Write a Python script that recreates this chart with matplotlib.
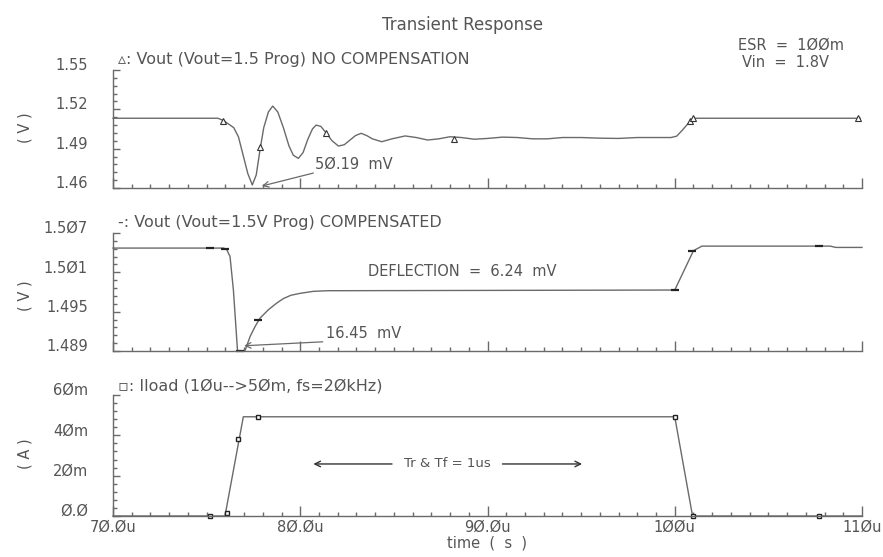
import matplotlib
matplotlib.use("Agg")
import matplotlib.pyplot as plt
import numpy as np
from matplotlib.ticker import MultipleLocator, FixedLocator

# ---------------- data (time in microseconds) ----------------
t_nc = [70.0, 75.6, 75.9, 76.2, 76.45, 76.7, 76.95, 77.2, 77.44, 77.65, 77.85, 78.05,
        78.3, 78.53, 78.8, 79.1, 79.4, 79.63, 79.9, 80.15, 80.4, 80.65, 80.85, 81.1,
        81.4, 81.7, 82.04, 82.35, 82.66, 82.95, 83.25, 83.55, 83.85, 84.35, 84.9,
        85.6, 86.2, 86.8, 87.4, 88.0, 88.6, 89.3, 90.0, 90.8, 91.6, 92.4, 93.2, 94.0,
        95.0, 96.0, 97.0, 98.0, 99.0, 99.8, 100.1, 100.4, 100.7, 101.0, 109.9]
v_nc = [1.5132, 1.5132, 1.5115, 1.5085, 1.5060, 1.4990, 1.4850, 1.4710, 1.4623, 1.4700,
        1.4890, 1.5060, 1.5180, 1.5225, 1.5180, 1.5060, 1.4920, 1.4850, 1.4826, 1.4870,
        1.4970, 1.5050, 1.5080, 1.5070, 1.5017, 1.4960, 1.4920, 1.4930, 1.4966, 1.5000,
        1.5017, 1.5000, 1.4975, 1.4953, 1.4975, 1.4997, 1.4985, 1.4966, 1.4975, 1.4991,
        1.4985, 1.4972, 1.4978, 1.4988, 1.4985, 1.4975, 1.4975, 1.4985, 1.4985, 1.4980,
        1.4978, 1.4985, 1.4985, 1.4985, 1.4995, 1.5040, 1.5090, 1.5132, 1.5132]
mk_nc_t = [75.9, 77.85, 81.4, 88.2, 100.8, 101.0, 109.8]
mk_nc_v = [1.5110, 1.4915, 1.5017, 1.4975, 1.5110, 1.5132, 1.5132]

t_c = [70.0, 75.9, 76.07, 76.25, 76.43, 76.65, 77.05, 77.32, 77.6, 77.85, 78.3, 78.74,
       79.1, 79.5, 80.0, 80.7, 81.5, 82.5, 100.0, 100.5, 101.0, 101.45, 108.3, 108.6, 110.0]
v_c = [1.5047, 1.5047, 1.5045, 1.5034, 1.4983, 1.48905, 1.48905, 1.4912, 1.4928, 1.4940,
       1.4953, 1.4963, 1.4970, 1.4975, 1.4978, 1.4981, 1.4982, 1.4982, 1.4983, 1.5013,
       1.5043, 1.5050, 1.5050, 1.5048, 1.5048]
mk_c_t = [75.2, 76.0, 76.8, 77.76, 100.0, 100.9, 107.7]
mk_c_v = [1.5047, 1.5045, 1.48905, 1.4938, 1.4983, 1.5043, 1.5050]

t_i = [70.0, 75.98, 76.96, 100.0, 100.95, 110.0]
i_ld = [0.0, 0.0, 49.2, 49.2, 0.0, 0.0]          # mA
mk_i_t = [75.2, 76.1, 76.7, 77.75, 100.0, 100.95, 107.7]
mk_i_v = [0.0, 1.5, 38.0, 49.2, 49.2, 0.0, 0.0]

x_ticks = [70, 80, 90, 100, 110]
x_labels = ["7Ø.Øu", "8Ø.Øu", "9Ø.Øu", "1ØØu", "11Øu"]
y1_ticks = [1.46, 1.49, 1.52, 1.55]
y1_labels = ["1.46", "1.49", "1.52", "1.55"]
y2_ticks = [1.489, 1.495, 1.501, 1.507]
y2_labels = ["1.489", "1.495", "1.5Ø1", "1.5Ø7"]
y3_ticks = [0, 20, 40, 60]
y3_labels = ["Ø.Ø", "2Øm", "4Øm", "6Øm"]

# ---------------- style ----------------
LC = "#6a6a6a"
TC = "#555555"
FS = 10.5
W, H = 883, 557

fig = plt.figure(figsize=(8.83, 5.57), dpi=100)
fig.patch.set_facecolor("white")

def box(top, bottom):
    return [113 / W, 1 - bottom / H, (862 - 113) / W, (bottom - top) / H]

ax1 = fig.add_axes(box(70, 188))
ax2 = fig.add_axes(box(233, 351))
ax3 = fig.add_axes(box(395, 516))

def style(ax, yt, ylab):
    for s in ["top", "right"]:
        ax.spines[s].set_visible(False)
    for s in ["left", "bottom"]:
        ax.spines[s].set_color(LC)
        ax.spines[s].set_linewidth(1.0)
    ax.set_xlim(70, 110)
    ax.set_ylim(yt[0], yt[-1])
    ax.xaxis.set_major_locator(FixedLocator(x_ticks))
    ax.xaxis.set_minor_locator(MultipleLocator(1))
    ax.yaxis.set_major_locator(FixedLocator(yt))
    ax.yaxis.set_minor_locator(FixedLocator(np.linspace(yt[0], yt[-1], 5 * (len(yt) - 1) + 1)))
    ax.set_yticklabels(ylab)
    ax.tick_params(axis="both", which="both", direction="in", color=LC, width=1.0)
    ax.tick_params(axis="x", which="major", length=7)
    ax.tick_params(axis="x", which="minor", length=3)
    ax.tick_params(axis="y", which="major", length=5, pad=18)
    ax.tick_params(axis="y", which="minor", length=3)
    ax.tick_params(axis="y", labelsize=FS, labelcolor=TC)
    for lab in ax.get_yticklabels():
        lab.set_va("baseline")
    ax.set_facecolor("white")

style(ax1, y1_ticks, y1_labels)
style(ax2, y2_ticks, y2_labels)
style(ax3, y3_ticks, y3_labels)
ax1.set_xticklabels([])
ax2.set_xticklabels([])
ax3.set_xticklabels(x_labels)
ax3.tick_params(axis="x", labelsize=FS, labelcolor=TC, pad=3)
ax3.set_xlabel("time  (  s  )", fontsize=FS, color=TC, labelpad=0)

# curves
ax1.plot(t_nc, v_nc, color=LC, lw=1.0, clip_on=False)
ax1.plot(mk_nc_t, mk_nc_v, ls="none", marker="^", ms=4, mfc="white", mec="#333333",
         mew=0.8, clip_on=False)
ax2.plot(t_c, v_c, color=LC, lw=1.0, clip_on=False)
ax2.plot(mk_c_t, mk_c_v, ls="none", marker="_", ms=6, mec="#222222", mew=1.6, clip_on=False)
ax3.plot(t_i, i_ld, color=LC, lw=1.0, clip_on=False)
ax3.plot(mk_i_t, mk_i_v, ls="none", marker="s", ms=3, mfc="white", mec="#222222",
         mew=1.0, clip_on=False)

# panel titles
TFS = 11.5
ax1.text(0.007, 1.05, "\u25b5: Vout (Vout=1.5 Prog) NO COMPENSATION", transform=ax1.transAxes,
         fontsize=TFS, color=TC, va="baseline", ha="left")
ax2.text(0.007, 1.053, "-: Vout (Vout=1.5V Prog) COMPENSATED", transform=ax2.transAxes,
         fontsize=TFS, color=TC, va="baseline", ha="left")
ax3.text(0.007, 1.036, "\u25ab: Iload (1Øu-->5Øm, fs=2ØkHz)", transform=ax3.transAxes,
         fontsize=TFS, color=TC, va="baseline", ha="left")

# y labels
for yc, s in [(128, "( V )"), (296, "( V )"), (454, "( A )")]:
    fig.text(25 / W, 1 - yc / H, s, rotation=90, ha="center", va="center",
             fontsize=FS, color=TC)

# figure texts
fig.text(463 / W, 1 - 30 / H, "Transient Response", ha="center", va="baseline",
         fontsize=12, color=TC)
fig.text(738 / W, 1 - 50 / H, "ESR  =  1ØØm", ha="left", va="baseline", fontsize=FS, color=TC)
fig.text(742 / W, 1 - 66.7 / H, "Vin  =  1.8V", ha="left", va="baseline", fontsize=FS, color=TC)

# annotations
ap = dict(arrowstyle="->", color=LC, lw=0.9, shrinkA=0, shrinkB=0)
ax1.annotate("", xy=(77.95, 1.4615), xytext=(80.7, 1.4714), arrowprops=ap,
             annotation_clip=False)
ax1.text(80.8, 1.4785, "5Ø.19  mV", fontsize=FS, color=TC, va="center", ha="left")

ax2.annotate("", xy=(77.0, 1.4898), xytext=(81.2, 1.4904), arrowprops=ap,
             annotation_clip=False)
ax2.text(81.4, 1.4917, "16.45  mV", fontsize=FS, color=TC, va="center", ha="left")
ax2.text(83.6, 1.5011, "DEFLECTION  =  6.24  mV", fontsize=FS, color=TC, va="center", ha="left")

ap2 = dict(arrowstyle="->", color="#333333", lw=1.0, shrinkA=0, shrinkB=0)
ax3.annotate("", xy=(80.7, 25.8), xytext=(84.9, 25.8), arrowprops=ap2)
ax3.annotate("", xy=(95.05, 25.8), xytext=(90.8, 25.8), arrowprops=ap2)
ax3.text(87.85, 25.8, "Tr & Tf = 1us", fontsize=9.5, color=TC, va="center", ha="center")

fig.savefig("out.png", dpi=100, facecolor="white")
